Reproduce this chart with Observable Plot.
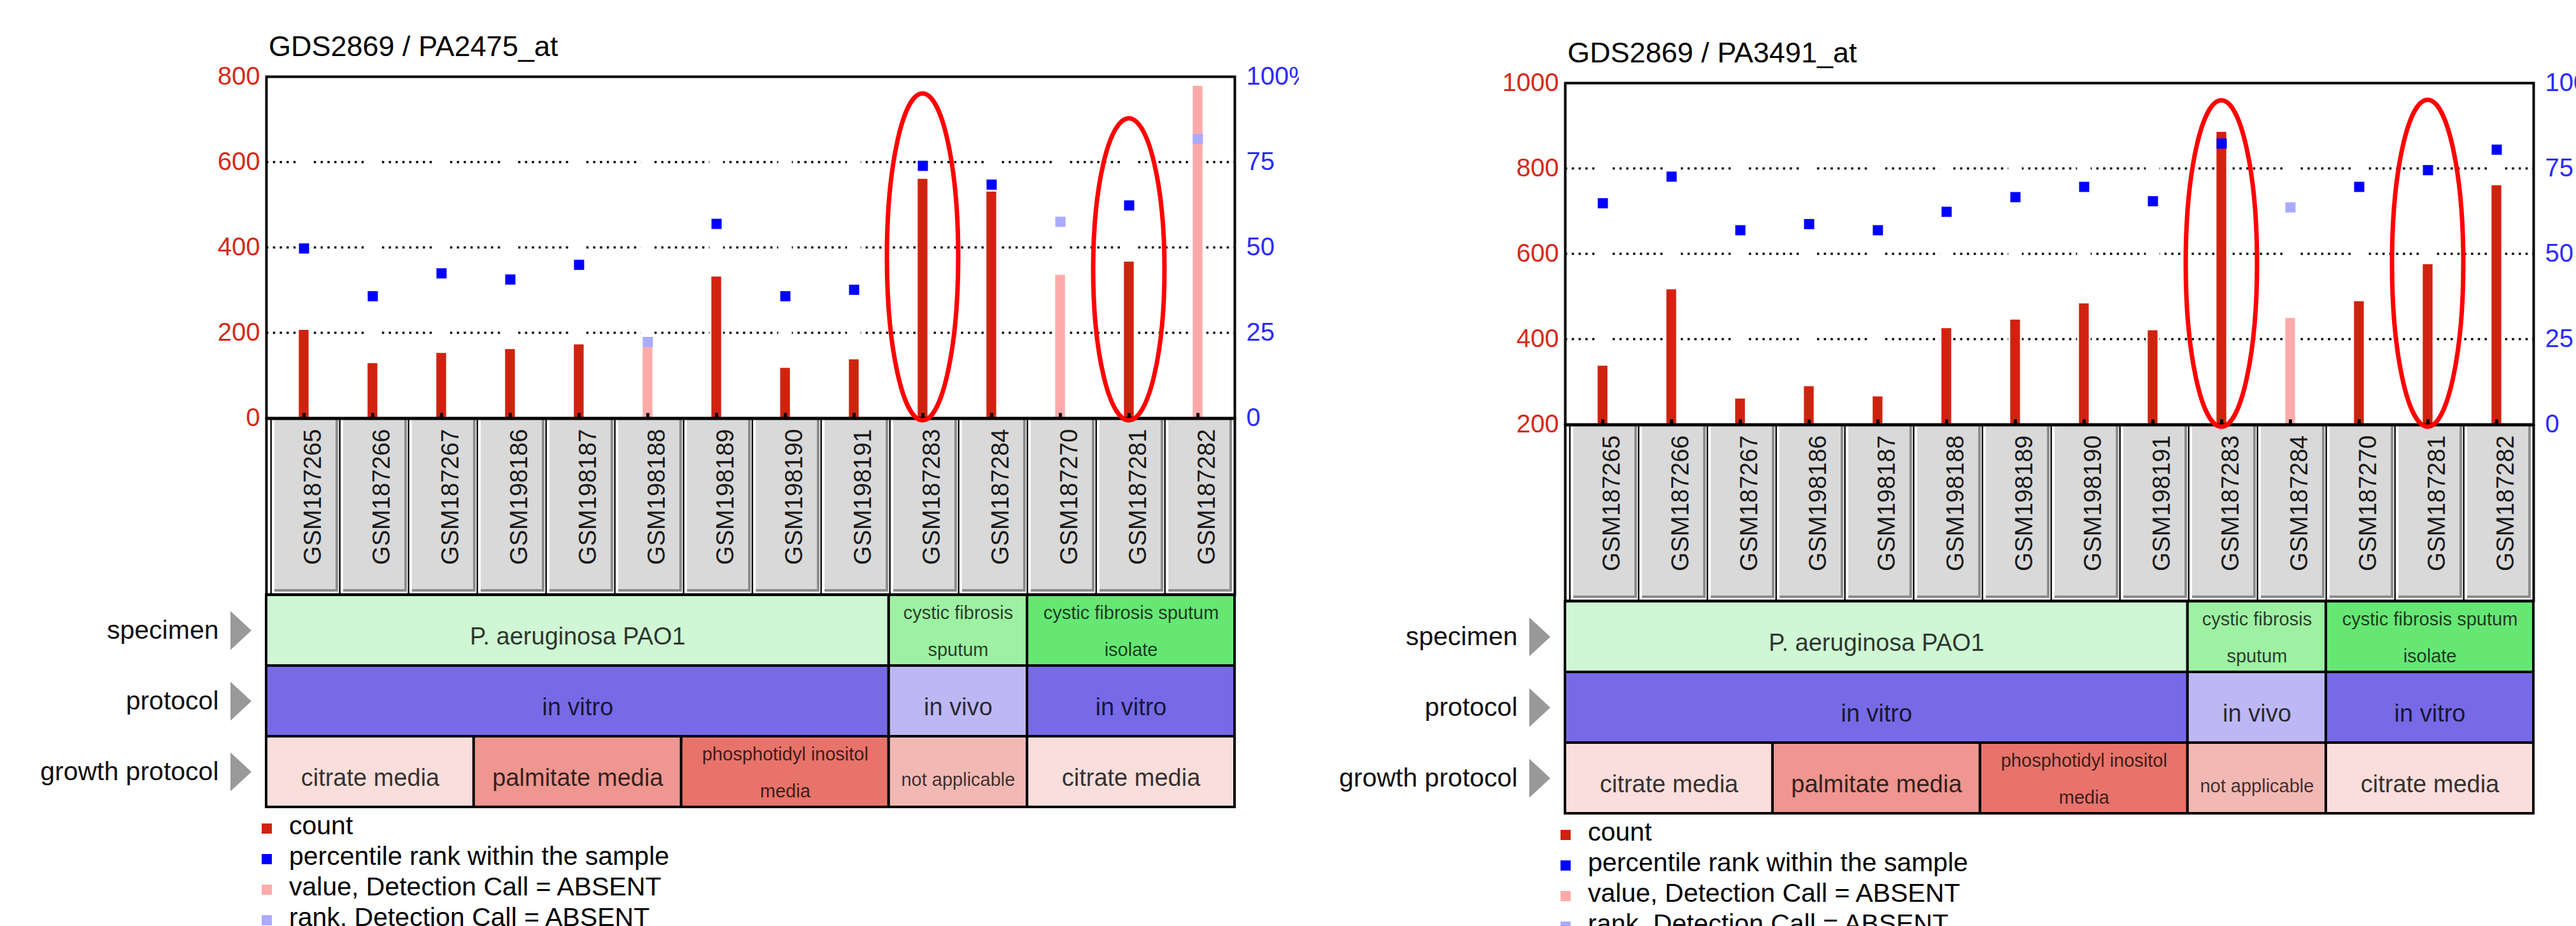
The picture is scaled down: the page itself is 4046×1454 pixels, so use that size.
<!DOCTYPE html>
<html><head><meta charset="utf-8">
<script src="https://cdn.jsdelivr.net/npm/d3@7"></script>
<script src="https://cdn.jsdelivr.net/npm/@observablehq/plot@0.6"></script>
<style>
html,body{margin:0;padding:0;background:#fff;}
body{width:4046px;height:1454px;position:relative;overflow:hidden;font-family:"Liberation Sans",Arial,sans-serif;}
.panel{position:absolute;top:0;width:2040px;height:1454px;overflow:hidden;}
.abs{position:absolute;white-space:nowrap;}
</style></head><body>
<div id="p1" class="panel" style="left:0;"></div>
<div id="p2" class="panel" style="left:2040px;top:10px;width:2006px;"></div>
<script>
// ---------------- data ----------------
const samples = ["GSM187265","GSM187266","GSM187267","GSM198186","GSM198187","GSM198188","GSM198189","GSM198190","GSM198191","GSM187283","GSM187284","GSM187270","GSM187281","GSM187282"];
const titles = ["GDS2869 / PA2475_at", "GDS2869 / PA3491_at"];

const counts1 = [206, 128, 152, 161, 172, 166, 331, 117, 137, 560, 530, 335, 366, 778];
const ranks1  = [49.7, 35.7, 42.4, 40.6, 44.9, 22.3, 56.9, 35.7, 37.6, 73.9, 68.4, 57.5, 62.3, 81.8];
const absent1 = [0,0,0,0,0,1,0,0,0,0,0,1,0,1];

const counts2 = [337, 516, 260, 289, 265, 425, 445, 483, 420, 885, 449, 488, 575, 760];
const ranks2  = [64.8, 72.6, 56.9, 58.7, 56.9, 62.3, 66.6, 69.6, 65.4, 82.3, 63.6, 69.6, 74.5, 80.5];
const absent2 = [0,0,0,0,0,0,0,0,0,0,1,0,0,0];

const countTicks1 = [0, 200, 400, 600, 800];
const countTicks2 = [200, 400, 600, 800, 1000];
const pctTicks = [0, 25, 50, 75, 100];
const pctTickLabels = ["0", "25", "50", "75", "100%"];

const highlighted = ["GSM187283", "GSM187281"];
const highlightTop1 = [760, 702];
const highlightTop2 = [959, 960];

const rowNames = ["specimen", "protocol", "growth protocol"];
const specimenLabels = ["P. aeruginosa PAO1", "cystic fibrosis sputum", "cystic fibrosis sputum isolate"];
const specimenSpans = [9, 2, 3];
const protocolLabels = ["in vitro", "in vivo", "in vitro"];
const protocolSpans = [9, 2, 3];
const growthLabels = ["citrate media", "palmitate media", "phosphotidyl inositol media", "not applicable", "citrate media"];
const growthSpans = [3, 3, 3, 2, 3];

const legendLabels = ["count", "percentile rank within the sample", "value, Detection Call = ABSENT", "rank, Detection Call = ABSENT"];

// ---------------- styles ----------------
const FONT = '"Liberation Sans", Arial, sans-serif';
const C = {count:"#d0230f", rank:"#0000ff", absentValue:"#ffaaaa", absentRank:"#aaaaff",
           axisLeft:"#d42a1a", axisRight:"#2b2bff", ellipse:"#ff0000"};
const legendColors = [C.count, C.rank, C.absentValue, C.absentRank];
const groupColors = {
  "P. aeruginosa PAO1":"#cff7d4", "cystic fibrosis sputum":"#9ef1a3", "cystic fibrosis sputum isolate":"#66e774",
  "in vitro":"#766ae7", "in vivo":"#bdb8f4",
  "citrate media":"#f9dedb", "palmitate media":"#ee968f", "phosphotidyl inositol media":"#e8736a", "not applicable":"#f2b9b4"
};
const wrapped = {"cystic fibrosis sputum":"cystic fibrosis\nsputum", "cystic fibrosis sputum isolate":"cystic fibrosis sputum\nisolate", "phosphotidyl inositol media":"phosphotidyl inositol\nmedia"};
const smallLabels = new Set(["cystic fibrosis sputum","cystic fibrosis sputum isolate","phosphotidyl inositol media","not applicable"]);

const W = 2040, ML = 418, MR = 101;
const BW = (W - ML - MR) / samples.length;
const svgStyle = {background:"transparent", maxWidth:"none", overflow:"visible", fontFamily: FONT, position:"absolute", left:"0px"};

const arrowSymbol = {draw(ctx, size){ const r = Math.sqrt(size/Math.PI); ctx.moveTo(-0.54*r, -r); ctx.lineTo(0.54*r, 0); ctx.lineTo(-0.54*r, r); ctx.closePath(); }};
const tickSymbol = {draw(ctx, size){ const r = Math.sqrt(size/Math.PI); ctx.rect(-0.3*r, -r, 0.6*r, r); }};

function place(el, node, top, z){
  Object.assign(node.style, {top: top + "px", zIndex: z});
  el.appendChild(node);
}

function panel(el, title, counts, ranks, absent, yTicks, hlTop) {
  const yMin = yTicks[0], yMax = yTicks[yTicks.length - 1];
  const rows = samples.map((s, i) => ({sample: s, count: counts[i], rank: ranks[i], absent: !!absent[i]}));
  const pctToY = p => yMin + p / 100 * (yMax - yMin);
  const pctLabel = new Map(pctTicks.map((p, i) => [pctToY(p), pctTickLabels[i]]));
  const yPerPx = (yMax - yMin) / 536;
  const hl = highlighted.map((s, i) => ({sample: s, top: hlTop[i]}));

  // title
  const t = document.createElement("div");
  t.className = "abs";
  Object.assign(t.style, {left: "422px", top: "50px", fontSize: "45px", lineHeight: "45px", color: "#000"});
  t.textContent = title;
  el.appendChild(t);

  const main = Plot.plot({
    width: W, height: 586, marginLeft: ML, marginRight: MR, marginTop: 40, marginBottom: 10,
    style: svgStyle,
    x: {type: "band", domain: samples, padding: 0, axis: null},
    y: {domain: [yMin, yMax], axis: null},
    marks: [
      Plot.gridY(yTicks.slice(1, -1), {stroke: "#000", strokeOpacity: 1, strokeWidth: 3.5, strokeDasharray: "3.5,7.2"}),
      Plot.barY(samples, {x: d => d, y1: yMin, y2: yMax, fill: "white", insetLeft: (BW - 22) / 2, insetRight: (BW - 22) / 2}),
      Plot.barY(rows.filter(d => !d.absent), {x: "sample", y1: yMin, y2: "count", fill: C.count, insetLeft: (BW - 16) / 2, insetRight: (BW - 16) / 2}),
      Plot.barY(rows.filter(d => d.absent), {x: "sample", y1: yMin, y2: "count", fill: C.absentValue, insetLeft: (BW - 16) / 2, insetRight: (BW - 16) / 2}),
      Plot.dot(rows.filter(d => !d.absent), {x: "sample", y: d => pctToY(d.rank), symbol: "square", r: 16 / Math.sqrt(Math.PI), fill: C.rank}),
      Plot.dot(rows.filter(d => d.absent), {x: "sample", y: d => pctToY(d.rank), symbol: "square", r: 16 / Math.sqrt(Math.PI), fill: C.absentRank}),
      Plot.frame({stroke: "#000", strokeWidth: 4}),
      Plot.dot(samples, {x: d => d, frameAnchor: "bottom", symbol: tickSymbol, r: 8, fill: "#000"}),
      Plot.axisY({ticks: yTicks, anchor: "left", tickSize: 0, tickPadding: 10, fontSize: 40, color: C.axisLeft, label: null, tickFormat: d => String(d)}),
      Plot.axisY({ticks: pctTicks.map(pctToY), anchor: "right", tickSize: 0, tickPadding: 18, fontSize: 40, color: C.axisRight, label: null, tickFormat: v => pctLabel.get(v)}),
      Plot.barY(hl, {x: "sample", y1: yMin - 4 * yPerPx, y2: "top", fill: "none", stroke: C.ellipse, strokeWidth: 7, rx: 1000, ry: 1000, insetLeft: -2, insetRight: -2})
    ]
  });
  place(el, main, 80, 3);

  const boxes = Plot.plot({
    width: W, height: 280, marginLeft: ML, marginRight: MR, marginTop: 2, marginBottom: 2,
    style: svgStyle,
    x: {type: "band", domain: samples, padding: 0, axis: null},
    y: {domain: [0, 1], axis: null},
    marks: [
      Plot.barY(samples, {x: d => d, y1: 0, y2: 1, fill: "#8c8c8c", insetLeft: 8, insetTop: 2, insetBottom: 4}),
      Plot.barY(samples, {x: d => d, y1: 0, y2: 1, fill: "#d9d9d9", insetLeft: 8, insetRight: 4, insetTop: 2, insetBottom: 8}),
      Plot.barY(samples, {x: d => d, y1: 0, y2: 1, fill: "#000", insetLeft: 1.5, insetRight: BW - 4.5}),
      Plot.text(samples, {x: d => d, text: d => d, rotate: -90, frameAnchor: "top", textAnchor: "end", dy: 16, fontSize: 38, fill: "#1a1a1a"}),
      Plot.frame({stroke: "#000", strokeWidth: 4})
    ]
  });
  place(el, boxes, 655, 1);

  const groups = [];
  [[specimenLabels, specimenSpans, rowNames[0]], [protocolLabels, protocolSpans, rowNames[1]], [growthLabels, growthSpans, rowNames[2]]]
    .forEach(([labels, spans, row]) => {
      let s = 0;
      labels.forEach((l, i) => { groups.push({row, label: l, start: s, end: s + spans[i]}); s += spans[i]; });
    });

  const ann = Plot.plot({
    width: W, height: 340, marginLeft: ML, marginRight: MR, marginTop: 3, marginBottom: 3,
    style: svgStyle,
    x: {domain: [0, samples.length], axis: null},
    y: {type: "band", domain: rowNames, padding: 0, axis: null},
    color: {type: "ordinal", domain: Object.keys(groupColors), range: Object.values(groupColors)},
    marks: [
      Plot.barX(groups, {x1: "start", x2: "end", y: "row", fill: "label", stroke: "#000", strokeWidth: 4}),
      Plot.text(groups.filter(d => !smallLabels.has(d.label)), {x: d => (d.start + d.end) / 2, y: "row", text: "label", fontSize: 38, dy: 10, fill: "#000", fillOpacity: 0.8}),
      Plot.text(groups.filter(d => smallLabels.has(d.label) && !wrapped[d.label]), {x: d => (d.start + d.end) / 2, y: "row", text: "label", fontSize: 29, dy: 13, fill: "#000", fillOpacity: 0.75}),
      Plot.text(groups.filter(d => wrapped[d.label]), {x: d => (d.start + d.end) / 2, y: "row", text: d => wrapped[d.label], fontSize: 29, lineHeight: 2, dy: -8, fill: "#000", fillOpacity: 0.75}),
      Plot.axisY({anchor: "left", tickSize: 0, tickPadding: 75, fontSize: 41, color: "#111", label: null}),
      Plot.dot(rowNames, {y: d => d, frameAnchor: "left", dx: -40, symbol: arrowSymbol, r: 30.5, fill: "#999999"})
    ]
  });
  place(el, ann, 930, 1);

  // legend
  legendLabels.forEach((lab, i) => {
    const cy = 1297 + i * 48;
    const m = document.createElement("div");
    m.className = "abs";
    Object.assign(m.style, {left: "411px", top: (cy + 4 - 8) + "px", width: "16px", height: "16px", background: legendColors[i]});
    el.appendChild(m);
    const tx = document.createElement("div");
    tx.className = "abs";
    Object.assign(tx.style, {left: "454px", top: (cy - 25) + "px", fontSize: "41px", lineHeight: "48px", color: "#000"});
    tx.textContent = lab;
    el.appendChild(tx);
  });
}

panel(document.getElementById("p1"), titles[0], counts1, ranks1, absent1, countTicks1, highlightTop1);
panel(document.getElementById("p2"), titles[1], counts2, ranks2, absent2, countTicks2, highlightTop2);
</script></body></html>
